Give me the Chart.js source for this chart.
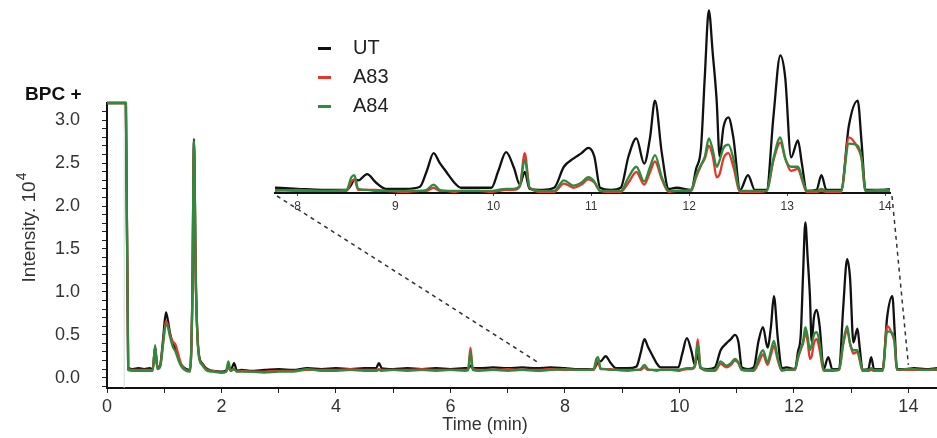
<!DOCTYPE html>
<html>
<head>
<meta charset="utf-8">
<script src="https://cdn.jsdelivr.net/npm/chart.js@4.4.1/dist/chart.umd.min.js"></script>
<style>
  html, body { margin: 0; padding: 0; background: #fff; }
  #wrap { position: relative; width: 937px; height: 438px; font-family: "Liberation Sans", Arial, sans-serif; }
  #wrap canvas { position: absolute; left: 0; top: 0; }
  #legend { position: absolute; left: 318px; top: 33px; }
  .row { height: 29px; line-height: 29px; font-size: 20px; color: #222; white-space: nowrap; }
  .dash { display: inline-block; width: 13px; height: 3px; vertical-align: middle; margin-right: 22px; }
</style>
</head>
<body>
<div id="wrap">
  <canvas id="main" width="937" height="438"></canvas>
  <canvas id="inset" width="937" height="438"></canvas>
  <div id="legend"></div>
</div>
<script>
// retention time (min)
const times = [
  0.00, 0.33, 0.37, 0.45, 0.55, 0.65, 0.75, 0.80, 0.84, 0.88, 0.93, 0.98, 1.03, 1.06, 1.10, 1.15, 1.20, 1.25,
  1.30, 1.38, 1.45, 1.49, 1.52, 1.55, 1.60, 1.66, 1.73, 1.85, 2.00, 2.08, 2.12, 2.16, 2.22, 2.27, 2.35, 2.50,
  2.75, 3.00, 3.25, 3.50, 3.75, 4.00, 4.25, 4.50, 4.70, 4.75, 4.80, 5.00, 5.25, 5.50, 5.75, 6.00, 6.25, 6.31,
  6.35, 6.39, 6.50, 6.75, 7.00, 7.25, 7.50, 7.75,
  8.00, 8.25, 8.50, 8.55, 8.58, 8.62, 8.71, 8.80, 8.90, 9.10, 9.25, 9.32, 9.39, 9.45, 9.52, 9.60, 9.67, 9.85, 9.98,
  10.05, 10.13, 10.21, 10.27, 10.32, 10.37, 10.50, 10.62, 10.72, 10.82, 10.90, 10.97, 11.03, 11.09, 11.20, 11.30,
  11.38, 11.46, 11.54, 11.60, 11.65, 11.72, 11.79, 11.87,
  12.02, 12.07, 12.12, 12.16, 12.20, 12.24, 12.28, 12.31, 12.35, 12.40, 12.45, 12.52, 12.60, 12.67, 12.79, 12.86,
  12.93, 12.98, 13.04, 13.11, 13.15, 13.20, 13.30, 13.35, 13.40, 13.55, 13.63, 13.72, 13.76, 13.80, 13.95, 14.10,
  14.30, 14.50
];

// intensity (x10^4)
const ut = [
  3.2, 3.2, 0.12, 0.10, 0.11, 0.10, 0.11, 0.10, 0.36, 0.12, 0.15, 0.45, 0.76, 0.68, 0.52, 0.40, 0.33, 0.22,
  0.15, 0.10, 0.09, 0.90, 2.78, 1.20, 0.30, 0.17, 0.11, 0.08, 0.07, 0.08, 0.14, 0.08, 0.17, 0.08, 0.09, 0.08,
  0.09, 0.10, 0.09, 0.11, 0.10, 0.11, 0.10, 0.11, 0.11, 0.17, 0.11, 0.10, 0.11, 0.10, 0.11, 0.10, 0.11, 0.11,
  0.14, 0.11, 0.11, 0.12, 0.11, 0.12, 0.11, 0.12,
  0.11, 0.10, 0.10, 0.15, 0.20, 0.19, 0.25, 0.17, 0.11, 0.11, 0.13, 0.28, 0.45, 0.36, 0.27, 0.17, 0.12, 0.12, 0.12,
  0.28, 0.46, 0.31, 0.15, 0.27, 0.11, 0.10, 0.12, 0.32, 0.40, 0.45, 0.50, 0.42, 0.12, 0.10, 0.12,
  0.42, 0.59, 0.35, 0.60, 0.95, 0.45, 0.11, 0.12,
  0.10, 0.30, 0.50, 1.20, 1.81, 1.40, 0.95, 0.42, 0.70, 0.79, 0.60, 0.10, 0.24, 0.10, 0.10, 0.80,
  1.38, 1.17, 0.41, 0.57, 0.35, 0.09, 0.10, 0.24, 0.10, 0.10, 0.71, 0.95, 0.55, 0.10, 0.10, 0.11,
  0.10, 0.11
];

const a83 = [
  3.2, 3.2, 0.10, 0.09, 0.09, 0.09, 0.09, 0.09, 0.36, 0.11, 0.14, 0.40, 0.66, 0.62, 0.50, 0.42, 0.38, 0.26,
  0.15, 0.09, 0.08, 0.85, 2.70, 1.15, 0.28, 0.16, 0.10, 0.08, 0.06, 0.07, 0.12, 0.09, 0.10, 0.07, 0.08, 0.07,
  0.07, 0.08, 0.08, 0.09, 0.09, 0.09, 0.10, 0.09, 0.09, 0.10, 0.09, 0.09, 0.09, 0.10, 0.09, 0.09, 0.09, 0.10,
  0.35, 0.10, 0.09, 0.09, 0.10, 0.09, 0.09, 0.10,
  0.09, 0.09, 0.09, 0.18, 0.20, 0.10, 0.10, 0.10, 0.09, 0.08, 0.09, 0.09, 0.12, 0.09, 0.09, 0.08, 0.09, 0.09, 0.08,
  0.09, 0.10, 0.10, 0.13, 0.45, 0.12, 0.08, 0.08, 0.16, 0.12, 0.15, 0.20, 0.17, 0.09, 0.08, 0.08,
  0.17, 0.27, 0.15, 0.27, 0.37, 0.20, 0.08, 0.09,
  0.09, 0.22, 0.33, 0.40, 0.52, 0.42, 0.22, 0.25, 0.40, 0.45, 0.32, 0.08, 0.08, 0.08, 0.09, 0.38,
  0.55, 0.40, 0.28, 0.30, 0.20, 0.08, 0.08, 0.09, 0.08, 0.08, 0.60, 0.50, 0.40, 0.09, 0.09, 0.09,
  0.09, 0.09
];

const a84 = [
  3.2, 3.2, 0.09, 0.08, 0.08, 0.08, 0.08, 0.08, 0.38, 0.10, 0.13, 0.40, 0.62, 0.60, 0.48, 0.36, 0.30, 0.20,
  0.13, 0.08, 0.07, 0.90, 2.76, 1.20, 0.28, 0.15, 0.09, 0.07, 0.06, 0.07, 0.19, 0.08, 0.10, 0.07, 0.07, 0.07,
  0.06, 0.07, 0.07, 0.10, 0.08, 0.08, 0.09, 0.08, 0.08, 0.09, 0.08, 0.09, 0.08, 0.09, 0.08, 0.09, 0.08, 0.09,
  0.30, 0.09, 0.08, 0.09, 0.08, 0.09, 0.08, 0.09,
  0.10, 0.09, 0.10, 0.22, 0.24, 0.11, 0.10, 0.09, 0.09, 0.09, 0.09, 0.10, 0.15, 0.10, 0.09, 0.09, 0.09, 0.09, 0.09,
  0.10, 0.11, 0.11, 0.14, 0.39, 0.12, 0.09, 0.09, 0.19, 0.14, 0.17, 0.22, 0.18, 0.09, 0.09, 0.09,
  0.22, 0.32, 0.18, 0.32, 0.43, 0.22, 0.09, 0.09,
  0.10, 0.24, 0.34, 0.42, 0.59, 0.48, 0.32, 0.38, 0.50, 0.53, 0.40, 0.09, 0.09, 0.09, 0.09, 0.40,
  0.60, 0.40, 0.32, 0.32, 0.22, 0.09, 0.09, 0.11, 0.09, 0.09, 0.54, 0.52, 0.40, 0.09, 0.10, 0.10,
  0.09, 0.10
];

const seriesNames = ["UT", "A83", "A84"];
const seriesColors = ["#111111", "#e8352b", "#2f8a3c"];

// axis ticks
const xTicks = [0, 1, 2, 3, 4, 5, 6, 7, 8, 9, 10, 11, 12, 13, 14];
const xLabels = [0, 2, 4, 6, 8, 10, 12, 14];
const yMajor = [0.0, 0.5, 1.0, 1.5, 2.0, 2.5, 3.0];
const yMinor = [-0.1, 0.1, 0.2, 0.3, 0.4, 0.6, 0.7, 0.8, 0.9, 1.1, 1.2, 1.3, 1.4, 1.6, 1.7, 1.8, 1.9,
                2.1, 2.2, 2.3, 2.4, 2.6, 2.7, 2.8, 2.9, 3.1];
const insetTicks = [8, 9, 10, 11, 12, 13, 14];

// zoom window shown in the inset, and where the connectors land on the main trace
const insetRange = [7.77, 14.05];
const zoomLinks = [[7.55, 0.17], [14.0, 0.15]];
const divertAt = 0.3;

const fontFamily = '"Liberation Sans", Arial, sans-serif';

function makeDatasets(width) {
  return seriesNames.map((name, k) => ({
    label: name,
    data: times.map((t, i) => ({ x: t, y: [ut, a83, a84][k][i] })),
    borderColor: seriesColors[k],
    backgroundColor: seriesColors[k],
    borderWidth: width,
    pointRadius: 0,
    cubicInterpolationMode: "monotone",
    borderJoinStyle: "round",
    order: 3 - k,
    clip: 3
  }));
}

// legend
const legendBox = document.getElementById("legend");
seriesNames.forEach((name, k) => {
  const row = document.createElement("div");
  row.className = "row";
  row.innerHTML = `<span class="dash" style="background:${seriesColors[k]}"></span>${name}`;
  legendBox.appendChild(row);
});

const mainDecor = {
  id: "mainDecor",
  beforeDatasetsDraw(chart) {
    const ctx = chart.ctx;
    const a = chart.chartArea;
    const x = chart.scales.x.getPixelForValue(divertAt);
    ctx.save();
    ctx.strokeStyle = "#d3dae2";
    ctx.lineWidth = 1;
    ctx.beginPath();
    ctx.moveTo(x, a.top);
    ctx.lineTo(x, a.bottom);
    ctx.stroke();
    ctx.restore();
  },
  afterDraw(chart) {
    const ctx = chart.ctx;
    ctx.save();
    ctx.fillStyle = "#111";
    ctx.textBaseline = "middle";
    ctx.font = "bold 19px " + fontFamily;
    ctx.fillText("BPC +", 25, 95);

    ctx.fillStyle = "#333";
    ctx.font = "18px " + fontFamily;
    ctx.textAlign = "center";
    ctx.fillText("Time (min)", 485, 425);

    // y title with superscript
    ctx.translate(30, 228);
    ctx.rotate(-Math.PI / 2);
    ctx.textAlign = "left";
    ctx.font = "19px " + fontFamily;
    const main = "Intensity. 10";
    const w1 = ctx.measureText(main).width;
    ctx.font = "14px " + fontFamily;
    const w2 = ctx.measureText("4").width;
    const x0 = -(w1 + w2) / 2;
    ctx.font = "19px " + fontFamily;
    ctx.fillText(main, x0, 0);
    ctx.font = "14px " + fontFamily;
    ctx.fillText("4", x0 + w1 + 1, -8);
    ctx.restore();
  }
};

const mainChart = new Chart(document.getElementById("main"), {
  type: "line",
  data: { datasets: makeDatasets(2.3) },
  options: {
    responsive: false,
    animation: false,
    layout: { padding: { top: 103, left: 0, right: 0, bottom: 0 } },
    plugins: { legend: { display: false }, tooltip: { enabled: false } },
    scales: {
      x: {
        type: "linear",
        min: 0,
        max: 14.5,
        afterBuildTicks: s => { s.ticks = xTicks.map(v => ({ value: v })); },
        afterFit: s => { s.height = 50; s.paddingLeft = 0; s.paddingRight = 0; },
        ticks: {
          autoSkip: false,
          maxRotation: 0,
          padding: 3,
          color: "#333",
          font: { size: 18, family: fontFamily },
          callback: v => (xLabels.includes(v) ? String(v) : "")
        },
        grid: { drawOnChartArea: false, tickLength: 5, tickColor: "#222" },
        border: { color: "#111", width: 2 }
      },
      y: {
        type: "linear",
        min: -0.12,
        max: 3.2,
        afterBuildTicks: s => {
          s.ticks = yMajor.concat(yMinor).sort((p, q) => p - q).map(v => ({ value: v }));
        },
        afterFit: s => { s.width = 107; s.paddingTop = 0; s.paddingBottom = 0; },
        ticks: {
          autoSkip: false,
          padding: 22,
          color: "#333",
          font: { size: 18, family: fontFamily },
          callback: v => (yMajor.some(m => Math.abs(m - v) < 1e-9) ? v.toFixed(1) : "")
        },
        grid: { drawOnChartArea: false, tickLength: 5, tickColor: "#222" },
        border: { color: "#111", width: 2 }
      }
    }
  },
  plugins: [mainDecor]
});

const connectors = {
  id: "connectors",
  afterDraw(chart) {
    const ctx = chart.ctx;
    const a = chart.chartArea;
    const mx = mainChart.scales.x;
    const my = mainChart.scales.y;
    ctx.save();
    ctx.setLineDash([4, 4]);
    ctx.strokeStyle = "#333";
    ctx.lineWidth = 1.5;
    ctx.beginPath();
    ctx.moveTo(a.left + 2, a.bottom + 3);
    ctx.lineTo(mx.getPixelForValue(zoomLinks[0][0]), my.getPixelForValue(zoomLinks[0][1]));
    ctx.moveTo(a.right + 2, a.bottom + 3);
    ctx.lineTo(mx.getPixelForValue(zoomLinks[1][0]), my.getPixelForValue(zoomLinks[1][1]));
    ctx.stroke();
    ctx.restore();
  }
};

const insetChart = new Chart(document.getElementById("inset"), {
  type: "line",
  data: { datasets: makeDatasets(2.3).map(d => Object.assign(d, { clip: 0 })) },
  options: {
    responsive: false,
    animation: false,
    layout: { padding: { top: 3, left: 275, right: 47, bottom: 0 } },
    plugins: { legend: { display: false }, tooltip: { enabled: false } },
    scales: {
      x: {
        type: "linear",
        min: insetRange[0],
        max: insetRange[1],
        afterBuildTicks: s => { s.ticks = insetTicks.map(v => ({ value: v })); },
        afterFit: s => { s.height = 245; s.paddingLeft = 0; s.paddingRight = 0; },
        ticks: {
          autoSkip: false,
          maxRotation: 0,
          padding: 3,
          color: "#333",
          font: { size: 12, family: fontFamily }
        },
        grid: { drawOnChartArea: false, tickLength: 3, tickColor: "#444" },
        border: { color: "#111", width: 2 }
      },
      y: { display: false, min: 0.07, max: 1.88 }
    }
  },
  plugins: [connectors]
});
</script>
</body>
</html>
